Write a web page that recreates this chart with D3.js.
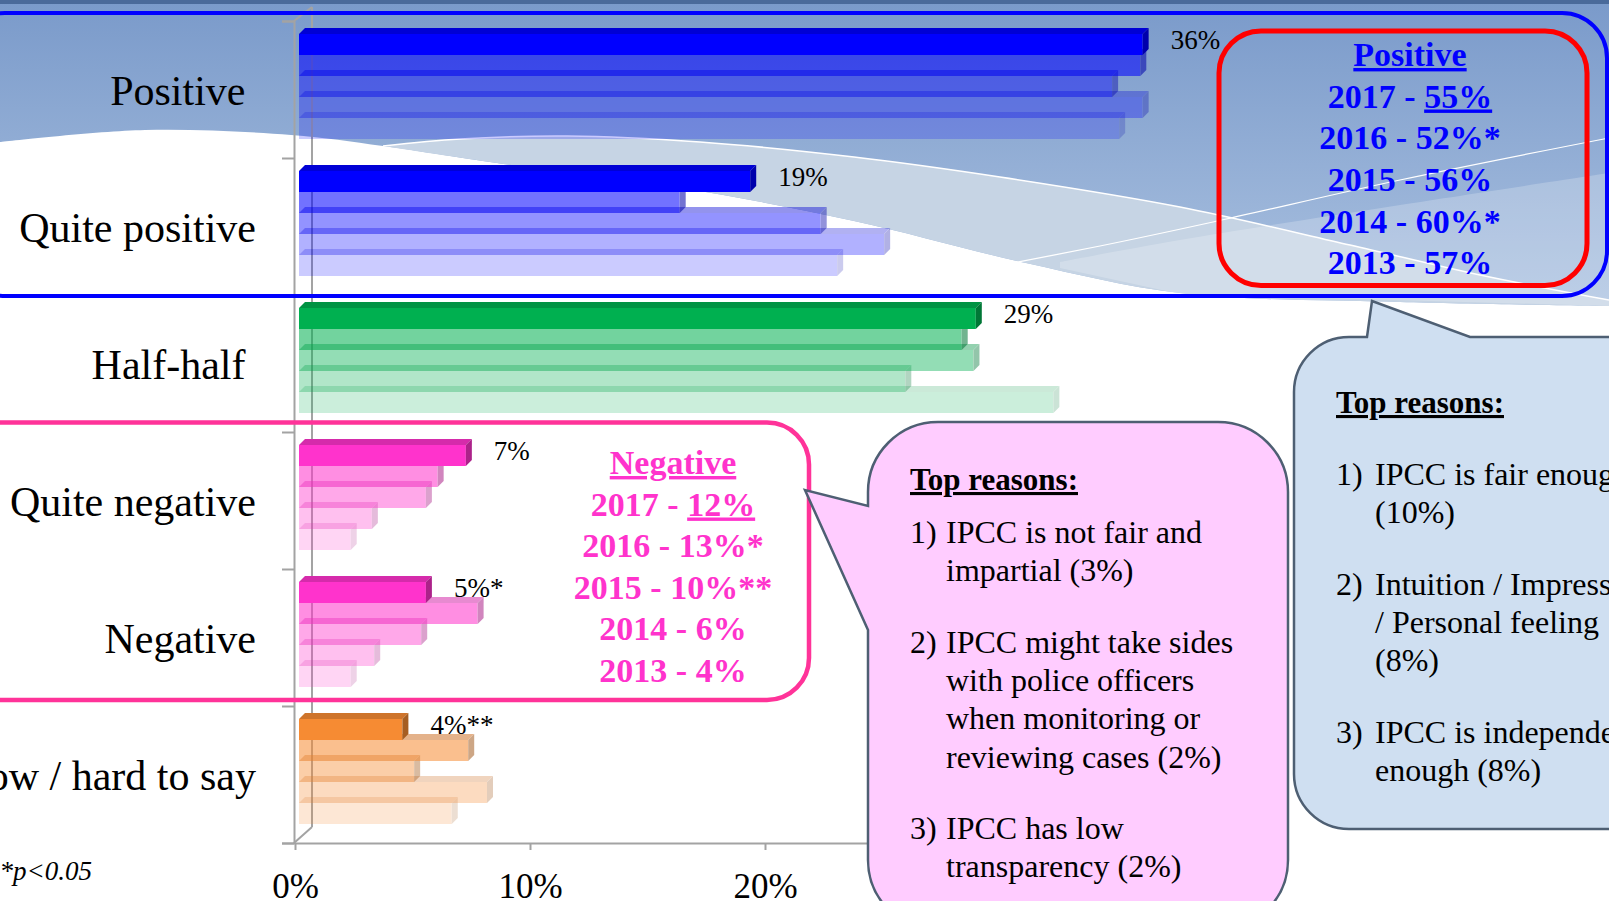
<!DOCTYPE html>
<html>
<head>
<meta charset="utf-8">
<script src="https://cdn.jsdelivr.net/npm/d3@7"></script>
<style>
  body { margin: 0; background: #fff; }
  svg { display: block; font-family: "Liberation Serif", "Times New Roman", serif; }
</style>
</head>
<body>
<div id="chart"></div>
<script>
// ---- data ----
var categories = ["Positive ", "Quite positive", "Half-half ", "Quite negative", "Negative", "Don't know / hard to say"];
var years = ["2017", "2016", "2015", "2014", "2013"];
var values2017 = [35.9, 19.2, 28.8, 7.1, 5.4, 4.4];
var values2016 = [35.8, 16.2, 28.2, 5.9, 7.6, 7.2];
var values2015 = [34.6, 22.2, 28.7, 5.4, 5.2, 4.9];
var values2014 = [35.9, 24.9, 25.8, 3.1, 3.2, 8.0];
var values2013 = [34.9, 22.9, 32.1, 2.2, 2.2, 6.5];
var valueLabels = ["36%", "19%", "29%", "7%", "5%*", "4%**"];
var xTicks = [0, 10, 20];   // the rest sit under the callout

var positiveTotals = ["55%", "52%*", "56%", "60%*", "57%"];
var negativeTotals = ["12%", "13%*", "10%**", "6%", "4%"];

var negativeReasons = [
  ["IPCC is not fair and", "impartial (3%)"],
  ["IPCC might take sides", "with police officers", "when monitoring or", "reviewing cases (2%)"],
  ["IPCC has low", "transparency (2%)"]
];
var positiveReasons = [
  ["IPCC is fair enough", "(10%)"],
  ["Intuition / Impression", "/ Personal feeling", "(8%)"],
  ["IPCC is independent", "enough (8%)"]
];

var seriesByYear = [values2017, values2016, values2015, values2014, values2013];

// ---- set up ----
var W = 1609, H = 901;
var svg = d3.select("#chart").append("svg").attr("width", W).attr("height", H);

// background: blue slide header with waves
var defs = svg.append("defs");
var grad = defs.append("linearGradient").attr("id", "bgBlue")
  .attr("x1", 0).attr("y1", 0).attr("x2", 0).attr("y2", 1);
grad.append("stop").attr("offset", "0%").attr("stop-color", "#7a9aca");
grad.append("stop").attr("offset", "100%").attr("stop-color", "#aac1e0");

var wave = d3.line().curve(d3.curveCatmullRom);
var edgeLow = [[0,142],[145,130],[291,135],[383,146],[497,163],[682,188],[854,221],[1026,263],[1180,293],[1400,302],[1609,306]];
var crest = [[383,146],[460,139],[567,136],[700,142],[854,157],[1000,177],[1180,207],[1350,245],[1480,275],[1609,300]];
var crest2 = [[986,268],[1100,246],[1213,222],[1400,180],[1609,138]];
var lighter = [[1060,262],[1180,240],[1400,205],[1609,173]];

svg.append("rect").attr("width", W).attr("height", H).attr("fill", "#fff");
svg.append("path").attr("d", wave(edgeLow) + "L1609,0L0,0Z").attr("fill", "url(#bgBlue)");
svg.append("path")
  .attr("d", wave(crest) + wave(edgeLow.slice(3).reverse()).replace("M", "L") + "Z")
  .attr("fill", "#c6d4e4");
svg.append("path")
  .attr("d", wave(lighter) + "L1609,306L1180,294L1060,268Z")
  .attr("fill", "#fff").attr("opacity", 0.22);
svg.append("path").attr("d", wave(crest)).attr("fill", "none").attr("stroke", "#fff").attr("stroke-width", 1.5);
svg.append("path").attr("d", wave(crest2)).attr("fill", "none").attr("stroke", "#fff").attr("stroke-width", 1.2);
svg.append("rect").attr("width", W).attr("height", 4).attr("fill", "#4a6a9a");

// scales
var x = d3.scaleLinear().domain([0, 40]).range([299, 1239]);
var y = d3.scaleBand().domain(categories).range([21, 843]);
var yr = d3.scaleBand().domain(years).range([13, 118]);
var depth = 6;

var color = d3.scaleOrdinal().domain(categories)
  .range(["#0000ff", "#0000ff", "#00b050", "#ff33cc", "#ff33cc", "#f68b33"]);
var yearOpacity = d3.scaleOrdinal().domain(years).range([1, 0.55, 0.42, 0.3, 0.2]);

// back wall of the 3d plot
var axisColor = "#a3a3a3";
svg.append("line").attr("x1", 312).attr("x2", 312).attr("y1", 7).attr("y2", 827)
  .attr("stroke", axisColor).attr("stroke-width", 2);
svg.append("line").attr("x1", 294).attr("x2", 312).attr("y1", 21).attr("y2", 7)
  .attr("stroke", axisColor).attr("stroke-width", 2);
svg.append("line").attr("x1", 294).attr("x2", 312).attr("y1", 843).attr("y2", 827)
  .attr("stroke", axisColor).attr("stroke-width", 2);

// bars
var rows = [];
categories.forEach(function(c, i) {
  years.forEach(function(yy, j) {
    rows.push({cat: c, year: yy, value: seriesByYear[j][i]});
  });
});
rows.sort(function(a, b) { return d3.ascending(a.year, b.year); }); // 2013 drawn first, 2017 on top

var bar = svg.append("g").selectAll("g").data(rows).enter().append("g")
  .attr("opacity", function(d) { return yearOpacity(d.year); });

function geom(d) {
  var x1 = x(0), x2 = x(d.value), t = y(d.cat) + yr(d.year), h = yr.bandwidth();
  return {x1: x1, x2: x2, t: t, h: h};
}
bar.append("polygon")
  .attr("points", function(d) {
    var g = geom(d);
    return [[g.x1, g.t], [g.x2, g.t], [g.x2 + depth, g.t - depth], [g.x1 + depth, g.t - depth]].join(" ");
  })
  .attr("fill", function(d) { return d3.color(color(d.cat)).darker(0.5); });
bar.append("rect")
  .attr("x", function(d) { return geom(d).x1; })
  .attr("y", function(d) { return geom(d).t; })
  .attr("width", function(d) { var g = geom(d); return g.x2 - g.x1; })
  .attr("height", yr.bandwidth())
  .attr("fill", function(d) { return color(d.cat); });
bar.append("polygon")
  .attr("points", function(d) {
    var g = geom(d);
    return [[g.x2, g.t], [g.x2 + depth, g.t - depth], [g.x2 + depth, g.t + g.h - depth], [g.x2, g.t + g.h]].join(" ");
  })
  .attr("fill", function(d) { return d3.color(color(d.cat)).darker(1.1); });

// front axes
var yEdge = d3.scaleLinear().domain([0, categories.length]).range([21, 843]);
var yAxis = svg.append("g").attr("transform", "translate(294,0)")
  .call(d3.axisLeft(yEdge).ticks(categories.length).tickSize(12).tickFormat(""));
yAxis.selectAll("path, line").attr("stroke", axisColor).attr("stroke-width", 2);

var xAxisScale = x.copy().range([295, 1235]);
var xAxis = svg.append("g").attr("transform", "translate(0,843)")
  .call(d3.axisBottom(xAxisScale).tickValues(xTicks).tickSize(7).tickSizeOuter(0)
    .tickFormat(function(d) { return d + "%"; }));
xAxis.selectAll("path, line").attr("stroke", axisColor).attr("stroke-width", 2);
xAxis.selectAll("text")
  .attr("y", 55).attr("dy", 0)
  .attr("font-family", "Liberation Serif, serif")
  .attr("font-size", 35).attr("fill", "#000");

// category labels
svg.append("g").selectAll("text").data(categories).enter().append("text")
  .attr("x", 256)
  .attr("y", function(d) { return y(d) + y.bandwidth() / 2 + 15.5; })
  .attr("text-anchor", "end")
  .style("white-space", "pre")
  .attr("font-size", 42)
  .text(function(d) { return d; });

// value labels on the 2017 bars
svg.append("g").selectAll("text").data(categories).enter().append("text")
  .attr("x", function(d, i) { return x(values2017[i]) + 28; })
  .attr("y", function(d) { return y(d) + 28; })
  .attr("font-size", 27)
  .text(function(d, i) { return valueLabels[i]; });

// positive box (blue) + summary (red)
svg.append("rect").attr("x", -40).attr("y", 13).attr("width", 1647).attr("height", 283)
  .attr("rx", 45).attr("fill", "none").attr("stroke", "#0000ff").attr("stroke-width", 4);
svg.append("rect").attr("x", 1219).attr("y", 31).attr("width", 368).attr("height", 254.5)
  .attr("rx", 42).attr("fill", "none").attr("stroke", "#ff0000").attr("stroke-width", 5);

function summary(cx, titleY, lineY, step, title, totals, col) {
  var g = svg.append("g").attr("fill", col).attr("font-weight", "bold")
    .attr("font-size", 34).attr("text-anchor", "middle");
  g.append("text").attr("x", cx).attr("y", titleY)
    .style("text-decoration", "underline").text(title);
  totals.forEach(function(t, i) {
    var tx = g.append("text").attr("x", cx).attr("y", lineY + step * i);
    tx.append("tspan").text(years[i] + " - ");
    var ts = tx.append("tspan").text(t);
    if (i === 0) ts.style("text-decoration", "underline");
  });
}
summary(1410, 66, 107.5, 41.7, "Positive", positiveTotals, "#0000ff");

// negative box (pink)
svg.append("rect").attr("x", -40).attr("y", 422.5).attr("width", 849).attr("height", 277.5)
  .attr("rx", 42).attr("fill", "none").attr("stroke", "#ff3399").attr("stroke-width", 4.5);
summary(673, 474, 515.5, 41.5, "Negative", negativeTotals, "#ff33cc");

// callouts
var calloutStroke = "#4e5f73";
(function() {
  var L = 868, T = 422, R = 1288, B = 930, r = 70;
  var d = "M" + L + "," + (T + r) + "A" + r + "," + r + " 0 0 1 " + (L + r) + "," + T +
    "H" + (R - r) + "A" + r + "," + r + " 0 0 1 " + R + "," + (T + r) +
    "V" + (B - r) + "A" + r + "," + r + " 0 0 1 " + (R - r) + "," + B +
    "H" + (L + r) + "A" + r + "," + r + " 0 0 1 " + L + "," + (B - r) +
    "V630L805,490L868,506Z";
  svg.append("path").attr("d", d).attr("fill", "#ffccff")
    .attr("stroke", calloutStroke).attr("stroke-width", 2.5);
})();
(function() {
  var L = 1294, T = 337, R = 1700, B = 829, r = 55;
  var d = "M" + L + "," + (T + r) + "A" + r + "," + r + " 0 0 1 " + (L + r) + "," + T +
    "L1367," + T + "L1372,301L1470," + T + "H" + R + "V" + B +
    "H" + (L + r) + "A" + r + "," + r + " 0 0 1 " + L + "," + (B - r) + "Z";
  svg.append("path").attr("d", d).attr("fill", "#cfdff1")
    .attr("stroke", calloutStroke).attr("stroke-width", 2.5);
})();

function reasons(x0, xText, titleY, firstY, list) {
  var g = svg.append("g").attr("fill", "#000");
  g.append("text").attr("x", x0).attr("y", titleY)
    .attr("font-size", 31).attr("font-weight", "bold")
    .style("text-decoration", "underline").text("Top reasons:");
  var yy = firstY, step = 38.3, gap = 33;
  list.forEach(function(lines, i) {
    g.append("text").attr("x", x0).attr("y", yy).attr("font-size", 32).text((i + 1) + ")");
    lines.forEach(function(line) {
      g.append("text").attr("x", xText).attr("y", yy).attr("font-size", 32).text(line);
      yy += step;
    });
    yy += gap;
  });
}
reasons(910, 946, 490, 543, negativeReasons);
reasons(1336, 1375, 413, 485, positiveReasons);

// footnote
svg.append("text").attr("x", 92).attr("y", 880).attr("text-anchor", "end")
  .attr("font-size", 27).attr("font-style", "italic").text("*p<0.05");
</script>
</body>
</html>
